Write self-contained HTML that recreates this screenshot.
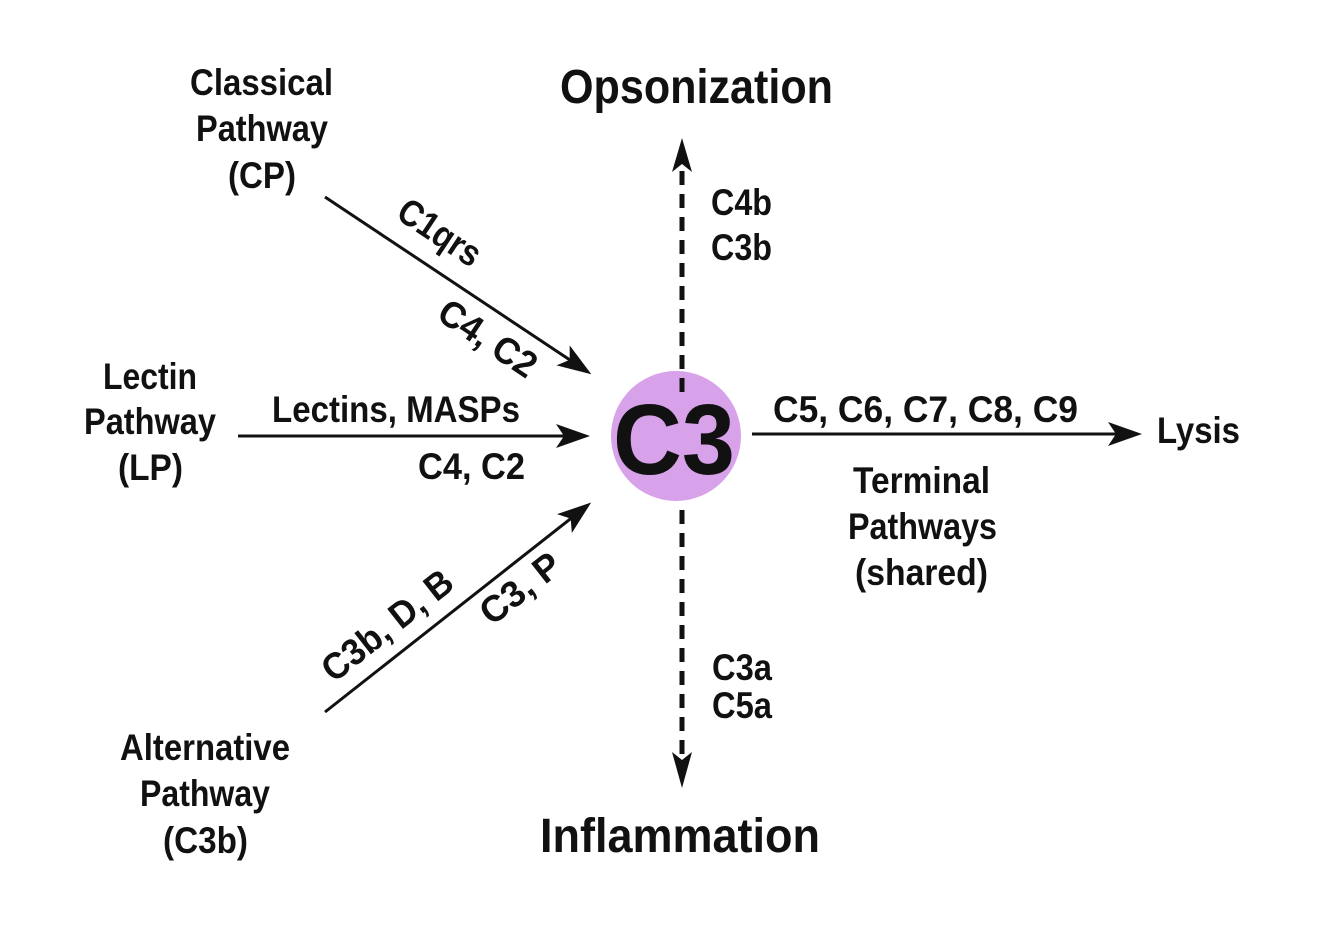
<!DOCTYPE html>
<html><head><meta charset="utf-8"><style>
html,body{margin:0;padding:0;background:#fff;}
svg{display:block;}
text{font-family:"Liberation Sans",Arial,sans-serif;font-weight:bold;fill:#111;}
</style></head><body>
<svg width="1334" height="939" viewBox="0 0 1334 939" xmlns="http://www.w3.org/2000/svg">
<defs>
<marker id="ah2" markerWidth="34" markerHeight="24" refX="30" refY="12" orient="auto" markerUnits="userSpaceOnUse" viewBox="0 0 34 24">
<path d="M0,0 L34,12 L0,24 L8,12 z" fill="#111"/></marker>
</defs>
<g font-size="37">
<text x="190" y="95" textLength="143" lengthAdjust="spacingAndGlyphs">Classical</text>
<text x="196" y="141" textLength="132" lengthAdjust="spacingAndGlyphs">Pathway</text>
<text x="228" y="188" textLength="68" lengthAdjust="spacingAndGlyphs">(CP)</text>
<text x="103" y="389" textLength="94" lengthAdjust="spacingAndGlyphs">Lectin</text>
<text x="84" y="434" textLength="132" lengthAdjust="spacingAndGlyphs">Pathway</text>
<text x="118" y="480" textLength="65" lengthAdjust="spacingAndGlyphs">(LP)</text>
<text x="120" y="760" textLength="170" lengthAdjust="spacingAndGlyphs">Alternative</text>
<text x="140" y="806" textLength="130" lengthAdjust="spacingAndGlyphs">Pathway</text>
<text x="163" y="853" textLength="85" lengthAdjust="spacingAndGlyphs">(C3b)</text>
<text x="272" y="422" textLength="248" lengthAdjust="spacingAndGlyphs">Lectins, MASPs</text>
<text x="418" y="479" textLength="107" lengthAdjust="spacingAndGlyphs">C4, C2</text>
<text x="711" y="215" textLength="61" lengthAdjust="spacingAndGlyphs">C4b</text>
<text x="711" y="260" textLength="61" lengthAdjust="spacingAndGlyphs">C3b</text>
<text x="712" y="680" textLength="60" lengthAdjust="spacingAndGlyphs">C3a</text>
<text x="712" y="718" textLength="60" lengthAdjust="spacingAndGlyphs">C5a</text>
<text x="773" y="422" textLength="305" lengthAdjust="spacingAndGlyphs">C5, C6, C7, C8, C9</text>
<text x="1157" y="443" textLength="83" lengthAdjust="spacingAndGlyphs">Lysis</text>
<text x="853" y="493" textLength="137" lengthAdjust="spacingAndGlyphs">Terminal</text>
<text x="848" y="539" textLength="149" lengthAdjust="spacingAndGlyphs">Pathways</text>
<text x="855" y="585" textLength="133" lengthAdjust="spacingAndGlyphs">(shared)</text>
<g transform="translate(440,232) rotate(33.6)"><text x="-46" y="13" textLength="92" lengthAdjust="spacingAndGlyphs">C1qrs</text></g>
<g transform="translate(488,338) rotate(33.6)"><text x="-55" y="13" textLength="110" lengthAdjust="spacingAndGlyphs">C4, C2</text></g>
<g transform="translate(387,625) rotate(-38.2)"><text x="-78" y="13" textLength="156" lengthAdjust="spacingAndGlyphs">C3b, D, B</text></g>
<g transform="translate(520,588) rotate(-38.2)"><text x="-46" y="13" textLength="92" lengthAdjust="spacingAndGlyphs">C3, P</text></g>
</g>
<text x="560" y="103" font-size="48" textLength="273" lengthAdjust="spacingAndGlyphs">Opsonization</text>
<text x="540" y="852" font-size="48" textLength="280" lengthAdjust="spacingAndGlyphs">Inflammation</text>
<line x1="325" y1="197" x2="588" y2="372" stroke="#111" stroke-width="3" marker-end="url(#ah2)"/>
<line x1="238" y1="436" x2="586" y2="436" stroke="#111" stroke-width="3" marker-end="url(#ah2)"/>
<line x1="325" y1="712" x2="588" y2="505" stroke="#111" stroke-width="3" marker-end="url(#ah2)"/>
<line x1="752" y1="434" x2="1138" y2="434" stroke="#111" stroke-width="3" marker-end="url(#ah2)"/>
<circle cx="676" cy="436" r="65" fill="#d7a2ea"/>
<line x1="682" y1="392" x2="682" y2="168" stroke="#111" stroke-width="5" stroke-dasharray="14,9"/>
<path d="M682,138 L692,172 L682,164 L672,172 z" fill="#111"/>
<line x1="682" y1="510" x2="682" y2="758" stroke="#111" stroke-width="5" stroke-dasharray="14,9"/>
<path d="M682,788 L692,752 L682,760 L672,752 z" fill="#111"/>
<text x="613" y="474" font-size="100" textLength="122" lengthAdjust="spacingAndGlyphs">C3</text>
</svg>
</body></html>
